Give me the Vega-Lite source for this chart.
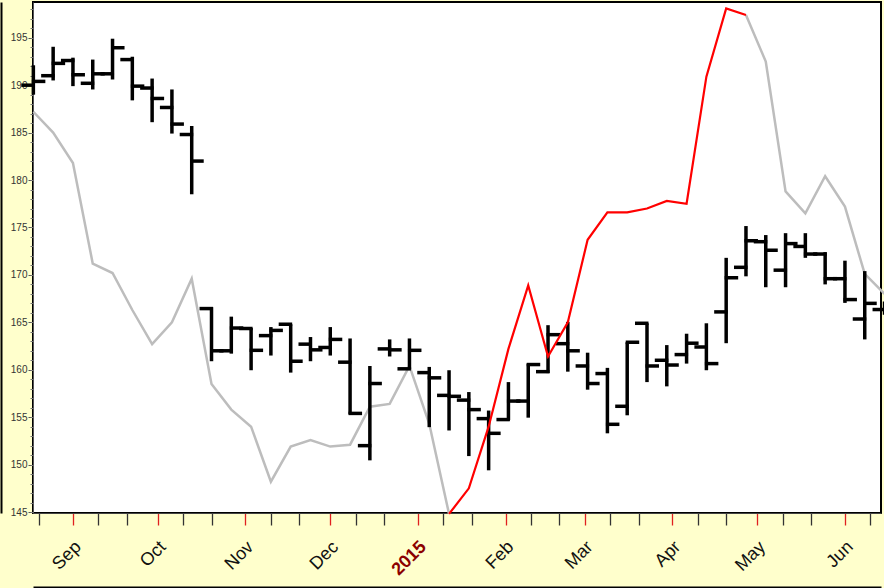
{
  "$schema": "https://vega.github.io/schema/vega-lite/v6.json",
  "width": 848,
  "height": 511,
  "autosize": {"type": "none"},
  "padding": {"left": 33, "top": 2, "right": 3, "bottom": 75},
  "background": "#FFFFCC",
  "config": {
    "view": {"fill": "white", "stroke": "#000", "strokeWidth": 2},
    "axis": {"grid": false, "labelFont": "Liberation Sans", "titleFont": "Liberation Sans"}
  },
  "resolve": {"axis": {"x": "independent", "y": "independent"}},
  "datasets": {
    "ohlc": [
      {"d": "2014-08-18T00:00", "o": 190.0, "h": 192.1, "l": 189.0, "c": 190.4},
      {"d": "2014-08-25T00:00", "o": 191.0, "h": 194.05, "l": 190.5, "c": 192.3},
      {"d": "2014-09-01T00:00", "o": 192.6, "h": 192.9, "l": 189.9, "c": 191.1},
      {"d": "2014-09-08T00:00", "o": 190.2, "h": 192.7, "l": 189.55, "c": 191.2},
      {"d": "2014-09-15T00:00", "o": 191.2, "h": 194.9, "l": 190.6, "c": 193.95},
      {"d": "2014-09-22T00:00", "o": 192.7, "h": 193.0, "l": 188.4, "c": 189.9},
      {"d": "2014-09-29T00:00", "o": 189.7, "h": 190.7, "l": 186.1, "c": 188.6},
      {"d": "2014-10-06T00:00", "o": 187.65, "h": 189.55, "l": 184.9, "c": 185.9},
      {"d": "2014-10-13T00:00", "o": 184.8, "h": 185.7, "l": 178.5, "c": 182.0},
      {"d": "2014-10-20T00:00", "o": 166.45, "h": 166.6, "l": 160.9, "c": 162.0},
      {"d": "2014-10-27T00:00", "o": 162.0, "h": 165.6, "l": 161.7, "c": 164.4},
      {"d": "2014-11-03T00:00", "o": 164.35, "h": 164.4, "l": 159.95, "c": 162.05},
      {"d": "2014-11-10T00:00", "o": 163.6, "h": 164.5, "l": 161.5, "c": 164.15},
      {"d": "2014-11-17T00:00", "o": 164.8, "h": 164.8, "l": 159.7, "c": 160.9},
      {"d": "2014-11-24T00:00", "o": 162.7, "h": 163.45, "l": 160.9, "c": 162.1},
      {"d": "2014-12-01T00:00", "o": 162.35, "h": 164.5, "l": 161.5, "c": 163.2},
      {"d": "2014-12-08T00:00", "o": 160.8, "h": 163.3, "l": 155.3, "c": 155.4},
      {"d": "2014-12-15T00:00", "o": 152.0, "h": 160.4, "l": 150.45, "c": 158.55},
      {"d": "2014-12-22T00:00", "o": 162.2, "h": 163.2, "l": 161.4, "c": 162.1},
      {"d": "2014-12-29T00:00", "o": 160.1, "h": 163.3, "l": 160.1, "c": 162.05},
      {"d": "2015-01-05T00:00", "o": 159.7, "h": 160.3, "l": 153.95, "c": 159.15},
      {"d": "2015-01-12T00:00", "o": 157.3, "h": 159.95, "l": 153.6, "c": 157.2},
      {"d": "2015-01-19T00:00", "o": 156.8, "h": 157.65, "l": 150.9, "c": 155.8},
      {"d": "2015-01-26T00:00", "o": 154.85, "h": 155.7, "l": 149.4, "c": 153.3},
      {"d": "2015-02-02T00:00", "o": 154.75, "h": 158.7, "l": 154.7, "c": 156.7},
      {"d": "2015-02-09T00:00", "o": 156.7, "h": 160.65, "l": 154.95, "c": 160.55},
      {"d": "2015-02-16T00:00", "o": 159.8, "h": 164.7, "l": 159.65, "c": 163.7},
      {"d": "2015-02-23T00:00", "o": 162.75, "h": 165.05, "l": 159.8, "c": 162.0},
      {"d": "2015-03-02T00:00", "o": 160.4, "h": 161.8, "l": 157.9, "c": 158.55},
      {"d": "2015-03-09T00:00", "o": 159.6, "h": 160.2, "l": 153.3, "c": 154.25},
      {"d": "2015-03-16T00:00", "o": 156.15, "h": 162.9, "l": 155.2, "c": 162.9},
      {"d": "2015-03-23T00:00", "o": 164.9, "h": 164.9, "l": 158.7, "c": 160.4},
      {"d": "2015-03-30T00:00", "o": 161.0, "h": 162.6, "l": 158.25, "c": 160.5},
      {"d": "2015-04-06T00:00", "o": 161.6, "h": 163.8, "l": 160.65, "c": 162.8},
      {"d": "2015-04-13T00:00", "o": 162.4, "h": 164.9, "l": 159.95, "c": 160.65},
      {"d": "2015-04-20T00:00", "o": 166.1, "h": 171.8, "l": 162.8, "c": 169.7},
      {"d": "2015-04-27T00:00", "o": 170.8, "h": 175.15, "l": 169.85, "c": 173.6},
      {"d": "2015-05-04T00:00", "o": 173.5, "h": 174.2, "l": 168.7, "c": 172.6},
      {"d": "2015-05-11T00:00", "o": 170.5, "h": 174.4, "l": 168.7, "c": 173.3},
      {"d": "2015-05-18T00:00", "o": 173.0, "h": 174.4, "l": 171.8, "c": 172.2},
      {"d": "2015-05-25T00:00", "o": 172.2, "h": 172.4, "l": 169.0, "c": 169.6},
      {"d": "2015-06-01T00:00", "o": 169.6, "h": 171.5, "l": 167.05, "c": 167.4},
      {"d": "2015-06-08T00:00", "o": 165.35, "h": 170.4, "l": 163.2, "c": 167.0},
      {"d": "2015-06-15T00:00", "o": 166.35, "h": 167.2, "l": 165.8, "c": 166.4}
    ],
    "grey": [
      {"d": "2014-08-18T00:00", "v": 187.2, "seg": "a"},
      {"d": "2014-08-25T00:00", "v": 185.0, "seg": "a"},
      {"d": "2014-09-01T00:00", "v": 181.8, "seg": "a"},
      {"d": "2014-09-08T00:00", "v": 171.2, "seg": "a"},
      {"d": "2014-09-15T00:00", "v": 170.2, "seg": "a"},
      {"d": "2014-09-22T00:00", "v": 166.3, "seg": "a"},
      {"d": "2014-09-29T00:00", "v": 162.7, "seg": "a"},
      {"d": "2014-10-06T00:00", "v": 165.0, "seg": "a"},
      {"d": "2014-10-13T00:00", "v": 169.6, "seg": "a"},
      {"d": "2014-10-20T00:00", "v": 158.5, "seg": "a"},
      {"d": "2014-10-27T00:00", "v": 155.8, "seg": "a"},
      {"d": "2014-11-03T00:00", "v": 154.0, "seg": "a"},
      {"d": "2014-11-10T00:00", "v": 148.2, "seg": "a"},
      {"d": "2014-11-17T00:00", "v": 151.9, "seg": "a"},
      {"d": "2014-11-24T00:00", "v": 152.6, "seg": "a"},
      {"d": "2014-12-01T00:00", "v": 151.9, "seg": "a"},
      {"d": "2014-12-08T00:00", "v": 152.1, "seg": "a"},
      {"d": "2014-12-15T00:00", "v": 156.1, "seg": "a"},
      {"d": "2014-12-22T00:00", "v": 156.4, "seg": "a"},
      {"d": "2014-12-29T00:00", "v": 160.4, "seg": "a"},
      {"d": "2015-01-05T00:00", "v": 154.3, "seg": "a"},
      {"d": "2015-01-12T00:00", "v": 144.8, "seg": "a"},
      {"d": "2015-04-27T00:00", "v": 197.4, "seg": "b"},
      {"d": "2015-05-04T00:00", "v": 192.5, "seg": "b"},
      {"d": "2015-05-11T00:00", "v": 178.8, "seg": "b"},
      {"d": "2015-05-18T00:00", "v": 176.5, "seg": "b"},
      {"d": "2015-05-25T00:00", "v": 180.4, "seg": "b"},
      {"d": "2015-06-01T00:00", "v": 177.2, "seg": "b"},
      {"d": "2015-06-08T00:00", "v": 170.1, "seg": "b"},
      {"d": "2015-06-15T00:00", "v": 168.0, "seg": "b"}
    ],
    "red": [
      {"d": "2015-01-12T00:00", "v": 144.8},
      {"d": "2015-01-19T00:00", "v": 147.5},
      {"d": "2015-01-26T00:00", "v": 154.0},
      {"d": "2015-02-02T00:00", "v": 162.2},
      {"d": "2015-02-09T00:00", "v": 168.9},
      {"d": "2015-02-16T00:00", "v": 161.4},
      {"d": "2015-02-23T00:00", "v": 165.0},
      {"d": "2015-03-02T00:00", "v": 173.7},
      {"d": "2015-03-09T00:00", "v": 176.6},
      {"d": "2015-03-16T00:00", "v": 176.6},
      {"d": "2015-03-23T00:00", "v": 177.0},
      {"d": "2015-03-30T00:00", "v": 177.8},
      {"d": "2015-04-06T00:00", "v": 177.5},
      {"d": "2015-04-13T00:00", "v": 190.9},
      {"d": "2015-04-20T00:00", "v": 198.1},
      {"d": "2015-04-27T00:00", "v": 197.4}
    ]
  },
  "layer": [
    {
      "data": {"name": "grey"},
      "mark": {"type": "line", "color": "#BDBDBD", "strokeWidth": 2.5},
      "encoding": {
        "x": {
          "field": "d", "type": "temporal",
          "scale": {"domain": [{"year": 2014, "month": 8, "date": 17, "hours": 21}, {"year": 2015, "month": 6, "date": 13, "hours": 18}], "nice": false},
          "axis": {
            "orient": "bottom", "title": null, "grid": false,
            "values": [
              {"year": 2014, "month": 8, "date": 20},
              {"year": 2014, "month": 9, "date": 1}, {"year": 2014, "month": 9, "date": 10}, {"year": 2014, "month": 9, "date": 20},
              {"year": 2014, "month": 10, "date": 1}, {"year": 2014, "month": 10, "date": 10}, {"year": 2014, "month": 10, "date": 20},
              {"year": 2014, "month": 11, "date": 1}, {"year": 2014, "month": 11, "date": 10}, {"year": 2014, "month": 11, "date": 20},
              {"year": 2014, "month": 12, "date": 1}, {"year": 2014, "month": 12, "date": 10}, {"year": 2014, "month": 12, "date": 20},
              {"year": 2015, "month": 1, "date": 1}, {"year": 2015, "month": 1, "date": 10}, {"year": 2015, "month": 1, "date": 20},
              {"year": 2015, "month": 2, "date": 1}, {"year": 2015, "month": 2, "date": 10}, {"year": 2015, "month": 2, "date": 20},
              {"year": 2015, "month": 3, "date": 1}, {"year": 2015, "month": 3, "date": 10}, {"year": 2015, "month": 3, "date": 20},
              {"year": 2015, "month": 4, "date": 1}, {"year": 2015, "month": 4, "date": 10}, {"year": 2015, "month": 4, "date": 20},
              {"year": 2015, "month": 5, "date": 1}, {"year": 2015, "month": 5, "date": 10}, {"year": 2015, "month": 5, "date": 20},
              {"year": 2015, "month": 6, "date": 1}, {"year": 2015, "month": 6, "date": 10}
            ],
            "domainColor": "#444", "domainWidth": 1,
            "tickSize": 12, "tickWidth": 1.3,
            "tickColor": {"condition": {"test": "date(datum.value) == 1", "value": "#E02020"}, "value": "#333"},
            "labelExpr": "date(datum.value) == 1 ? (month(datum.value) == 0 ? timeFormat(datum.value, '%Y') : timeFormat(datum.value, '%b')) : ''",
            "labelAngle": -45, "labelAlign": "right", "labelBaseline": "middle",
            "labelOffset": 5, "labelPadding": 19, "labelFontSize": 18,
            "labelColor": {"condition": {"test": "month(datum.value) == 0 && date(datum.value) == 1", "value": "#8B0000"}, "value": "#111"},
            "labelFontWeight": {"condition": {"test": "month(datum.value) == 0 && date(datum.value) == 1", "value": "bold"}, "value": "normal"},
            "labelOverlap": false, "labelBound": false, "labelFlush": false
          }
        },
        "y": {
          "field": "v", "type": "quantitative",
          "scale": {"domain": [144.9, 198.77], "nice": false, "zero": false},
          "axis": {
            "orient": "left", "title": null, "grid": false,
            "values": [145, 150, 155, 160, 165, 170, 175, 180, 185, 190, 195],
            "tickSize": 5, "tickColor": "#555", "domainColor": "#555",
            "labelFontSize": 10, "labelColor": "#333", "labelPadding": 1
          }
        },
        "detail": {"field": "seg"}
      }
    },
    {
      "data": {"name": "ohlc"},
      "mark": {"type": "rule", "color": "#000", "strokeWidth": 3.5},
      "encoding": {
        "x": {
          "field": "d", "type": "temporal",
          "scale": {"domain": [{"year": 2014, "month": 8, "date": 17, "hours": 21}, {"year": 2015, "month": 6, "date": 13, "hours": 18}], "nice": false},
          "axis": {"orient": "bottom", "offset": 74, "title": null, "grid": false, "ticks": false, "labels": false, "domainColor": "#000", "domainWidth": 2}
        },
        "y": {
          "field": "l", "type": "quantitative",
          "scale": {"domain": [144.9, 198.77], "nice": false, "zero": false},
          "axis": {
            "orient": "left", "title": null, "grid": false, "labels": false, "domain": false,
            "values": [145,146,147,148,149,150,151,152,153,154,155,156,157,158,159,160,161,162,163,164,165,166,167,168,169,170,171,172,173,174,175,176,177,178,179,180,181,182,183,184,185,186,187,188,189,190,191,192,193,194,195,196,197,198],
            "tickSize": 3, "tickColor": "#777"
          }
        },
        "y2": {"field": "h"}
      }
    },
    {
      "data": {"name": "ohlc"},
      "mark": {"type": "rule", "color": "#000", "strokeWidth": 3.5, "xOffset": -12, "x2Offset": 1.5},
      "encoding": {
        "x": {"field": "d", "type": "temporal", "axis": null,
          "scale": {"domain": [{"year": 2014, "month": 8, "date": 17, "hours": 21}, {"year": 2015, "month": 6, "date": 13, "hours": 18}], "nice": false}},
        "x2": {"field": "d"},
        "y": {
          "field": "o", "type": "quantitative",
          "scale": {"domain": [144.9, 198.77], "nice": false, "zero": false},
          "axis": {"orient": "left", "offset": 32, "title": null, "grid": false, "ticks": false, "labels": false, "domainColor": "#000", "domainWidth": 2}
        }
      }
    },
    {
      "data": {"name": "ohlc"},
      "mark": {"type": "rule", "color": "#000", "strokeWidth": 3.5, "xOffset": -1.5, "x2Offset": 12},
      "encoding": {
        "x": {"field": "d", "type": "temporal", "axis": null,
          "scale": {"domain": [{"year": 2014, "month": 8, "date": 17, "hours": 21}, {"year": 2015, "month": 6, "date": 13, "hours": 18}], "nice": false}},
        "x2": {"field": "d"},
        "y": {"field": "c", "type": "quantitative", "axis": null,
          "scale": {"domain": [144.9, 198.77], "nice": false, "zero": false}}
      }
    },
    {
      "data": {"name": "red"},
      "mark": {"type": "line", "color": "#FF0000", "strokeWidth": 2.2},
      "encoding": {
        "x": {"field": "d", "type": "temporal", "axis": null,
          "scale": {"domain": [{"year": 2014, "month": 8, "date": 17, "hours": 21}, {"year": 2015, "month": 6, "date": 13, "hours": 18}], "nice": false}},
        "y": {"field": "v", "type": "quantitative", "axis": null,
          "scale": {"domain": [144.9, 198.77], "nice": false, "zero": false}}
      }
    }
  ]
}
